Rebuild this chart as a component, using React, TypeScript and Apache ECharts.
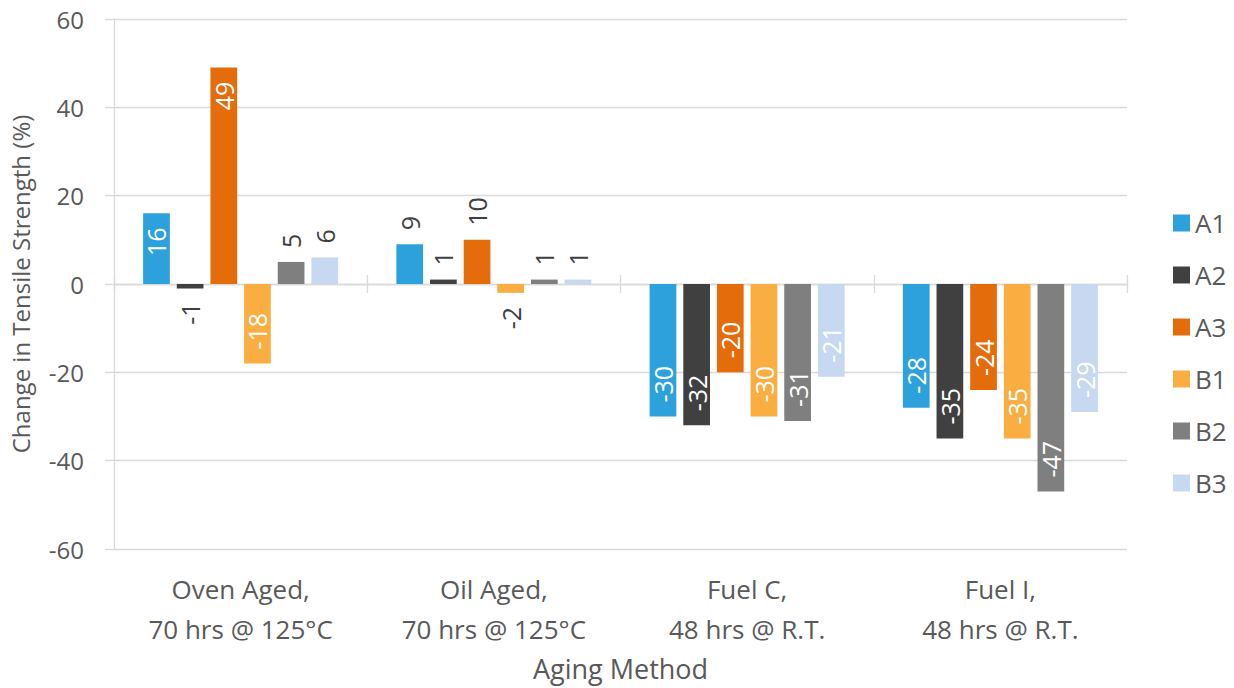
import React, { useEffect, useRef } from "react";
import * as echarts from "echarts";

// Aging methods on the category axis
const categories = [
  "Oven Aged,\n70 hrs @ 125°C",
  "Oil Aged,\n70 hrs @ 125°C",
  "Fuel C,\n48 hrs @ R.T.",
  "Fuel I,\n48 hrs @ R.T.",
];

// Change in tensile strength (%) per compound
const seriesNames = ["A1", "A2", "A3", "B1", "B2", "B3"];
const a1 = [16, 9, -30, -28];
const a2 = [-1, 1, -32, -35];
const a3 = [49, 10, -20, -24];
const b1 = [-18, -2, -30, -35];
const b2 = [5, 1, -31, -47];
const b3 = [6, 1, -21, -29];
const seriesValues = [a1, a2, a3, b1, b2, b3];

const colors = ["#2CA1DC", "#404040", "#E46C0A", "#FAAD40", "#7F7F7F", "#C6D9F0"];

const yTicks = { min: -60, max: 60, interval: 20 };

const FONT = "'Open Sans', 'Noto Sans', sans-serif";
const GRID_COLOR = "#D9D9D9";
const TEXT_COLOR = "#595959";

// Large bars carry their value inside the bar end, short ones just beyond it
function pointLabel(v: number) {
  const inside = Math.abs(v) >= 12;
  if (v >= 0) {
    return inside
      ? { position: "insideTop", align: "right", color: "#ffffff" }
      : { position: "top", align: "left", color: "#404040" };
  }
  return inside
    ? { position: "insideBottom", align: "left", color: "#ffffff" }
    : { position: "bottom", align: "right", color: "#404040" };
}

export default function App() {
  const ref = useRef<HTMLDivElement>(null);

  useEffect(() => {
    if (!ref.current) return;
    const chart = echarts.init(ref.current, undefined, { renderer: "svg" });

    const series = seriesNames.map((name, i) => ({
      name,
      type: "bar",
      xAxisIndex: 0,
      yAxisIndex: 0,
      barGap: "26%",
      barCategoryGap: "23%",
      itemStyle: { color: colors[i] },
      label: {
        show: true,
        rotate: 90,
        verticalAlign: "middle",
        distance: 14,
        fontSize: 25,
        fontFamily: FONT,
      },
      data: seriesValues[i].map((v) => ({ value: v, label: pointLabel(v) })),
    }));

    chart.setOption({
      animation: false,
      color: colors,
      textStyle: { fontFamily: FONT },
      grid: { left: 113, right: 107, top: 19, bottom: 139 },
      legend: {
        data: seriesNames,
        orient: "vertical",
        left: 1168,
        top: 205,
        icon: "rect",
        itemWidth: 17,
        itemHeight: 17,
        itemGap: 26,
        textStyle: { fontSize: 26, color: TEXT_COLOR, fontFamily: FONT, lineHeight: 26 },
      },
      xAxis: [
        {
          type: "category",
          data: categories,
          position: "bottom",
          axisLine: { onZero: true, lineStyle: { color: GRID_COLOR, width: 1.3 } },
          axisTick: { show: true, length: 9, lineStyle: { color: GRID_COLOR, width: 1.3 } },
          axisLabel: { show: false },
          splitLine: { show: false },
        },
        {
          type: "category",
          data: categories,
          position: "bottom",
          axisLine: { show: false, onZero: true, onZeroAxisIndex: 1 },
          axisTick: { show: true, inside: true, length: 9, lineStyle: { color: GRID_COLOR, width: 1.3 } },
          axisLabel: { show: false },
          splitLine: { show: false },
        },
        {
          type: "category",
          data: categories,
          position: "bottom",
          axisLine: { show: false, onZero: false },
          axisTick: { show: false },
          axisLabel: {
            fontSize: 26,
            color: TEXT_COLOR,
            lineHeight: 40,
            margin: 20,
            fontFamily: FONT,
          },
          splitLine: { show: false },
          name: "Aging Method",
          nameLocation: "middle",
          nameGap: 106,
          nameTextStyle: { fontSize: 27, color: TEXT_COLOR, fontFamily: FONT },
        },
      ],
      yAxis: [
        {
          type: "value",
          ...yTicks,
          axisLine: { show: true, lineStyle: { color: GRID_COLOR, width: 1.3 } },
          axisTick: { show: true, length: 9, lineStyle: { color: GRID_COLOR, width: 1.3 } },
          axisLabel: { fontSize: 24, color: TEXT_COLOR, margin: 30, fontFamily: FONT },
          splitLine: { show: true, lineStyle: { color: GRID_COLOR, width: 1.3 } },
          name: "Change in Tensile Strength (%)",
          nameLocation: "middle",
          nameGap: 82,
          nameTextStyle: { fontSize: 24, color: TEXT_COLOR, fontFamily: FONT },
        },
        {
          type: "value",
          ...yTicks,
          show: false,
        },
      ],
      series,
    });

    return () => chart.dispose();
  }, []);

  return (
    <div
      ref={ref}
      style={{ position: "absolute", left: 0, top: 0, width: 1234, height: 688 }}
    />
  );
}
